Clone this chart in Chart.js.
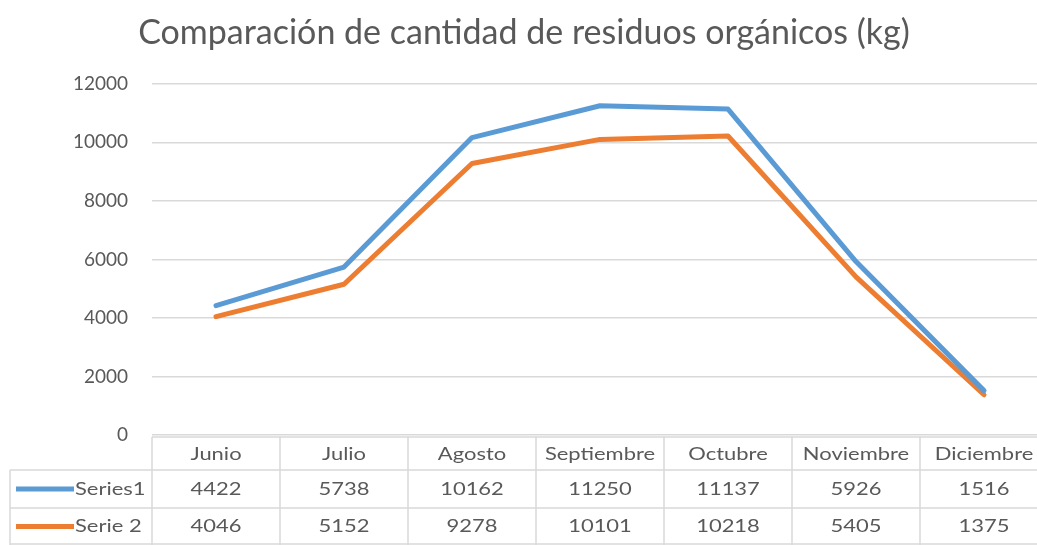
<!DOCTYPE html>
<html>
<head>
<meta charset="utf-8">
<script src="https://cdn.jsdelivr.net/npm/chart.js@4"></script>
<style>
  html, body { margin: 0; padding: 0; background: #fff; overflow: hidden; }
  #wrap { width: 1050px; height: 545px; }
</style>
</head>
<body>
<div id="wrap"><canvas id="chart" width="1050" height="545"></canvas></div>
<script>
// Chart data
const months = ['Junio', 'Julio', 'Agosto', 'Septiembre', 'Octubre', 'Noviembre', 'Diciembre'];
const series1 = [4422, 5738, 10162, 11250, 11137, 5926, 1516];
const series2 = [4046, 5152, 9278, 10101, 10218, 5405, 1375];
const seriesNames = ['Series1', 'Serie 2'];
const yTicks = [0, 2000, 4000, 6000, 8000, 10000, 12000];

const textColor = '#595959';
const gridColor = '#d9d9d9';
const colors = ['#5b9bd5', '#ed7d31'];
const fontFamily = 'Lato, "Open Sans", sans-serif';

// Data table drawn under the plot area (Excel style)
const dataTable = {
    id: 'dataTable',
    afterDraw(chart) {
        const ctx = chart.ctx;
        const ca = chart.chartArea;
        const x = chart.scales.x;
        const catW = (ca.right - ca.left) / months.length;
        const top = ca.bottom + 2;
        const row1 = top + 33;
        const row2 = row1 + 38;
        const bottom = chart.height;
        const legendLeft = 10;
        const stretch = 1.22;

        ctx.save();
        ctx.strokeStyle = gridColor;
        ctx.lineWidth = 1.5;

        // horizontal lines
        ctx.beginPath();
        ctx.moveTo(ca.left, top); ctx.lineTo(chart.width, top);
        ctx.moveTo(legendLeft, row1); ctx.lineTo(chart.width, row1);
        ctx.moveTo(legendLeft, row2); ctx.lineTo(chart.width, row2);
        ctx.moveTo(legendLeft, bottom - 1); ctx.lineTo(chart.width, bottom - 1);
        // vertical lines
        for (let i = 0; i <= months.length; i++) {
            const xx = ca.left + i * catW;
            ctx.moveTo(xx, top); ctx.lineTo(xx, bottom);
        }
        ctx.moveTo(legendLeft, row1); ctx.lineTo(legendLeft, bottom);
        ctx.stroke();

        // text is a bit wide in the original, stretch it horizontally
        const label = (txt, cx, cy, align) => {
            ctx.save();
            ctx.translate(cx, cy);
            ctx.scale(stretch, 1);
            ctx.textAlign = align;
            ctx.fillText(txt, 0, 0);
            ctx.restore();
        };

        ctx.fillStyle = textColor;
        ctx.font = '18px ' + fontFamily;
        ctx.textBaseline = 'middle';
        months.forEach((m, i) => {
            const cx = x.getPixelForValue(i);
            label(m, cx, (top + row1) / 2 + 1, 'center');
            label(String(series1[i]), cx, (row1 + row2) / 2, 'center');
            label(String(series2[i]), cx, (row2 + bottom) / 2, 'center');
        });

        // legend keys
        const rows = [(row1 + row2) / 2, (row2 + bottom) / 2];
        rows.forEach((ry, k) => {
            ctx.strokeStyle = colors[k];
            ctx.lineWidth = 5;
            ctx.beginPath();
            ctx.moveTo(16, ry); ctx.lineTo(74, ry);
            ctx.stroke();
            label(seriesNames[k], 75, ry, 'left');
        });
        ctx.restore();
    }
};

new Chart(document.getElementById('chart').getContext('2d'), {
    type: 'line',
    data: {
        labels: months,
        datasets: [
            { label: seriesNames[0], data: series1, borderColor: colors[0], backgroundColor: colors[0] },
            { label: seriesNames[1], data: series2, borderColor: colors[1], backgroundColor: colors[1] }
        ]
    },
    options: {
        responsive: false,
        animation: false,
        layout: { padding: { top: 0, left: 0, right: 2, bottom: 102 } },
        elements: {
            line: { borderWidth: 5, tension: 0, borderCapStyle: 'round', borderJoinStyle: 'round' },
            point: { radius: 0 }
        },
        plugins: {
            legend: { display: false },
            tooltip: { enabled: false },
            title: {
                display: true,
                text: 'Comparación de cantidad de residuos orgánicos (kg)',
                color: textColor,
                font: { family: fontFamily, size: 34, weight: 'normal' },
                padding: { top: 13, bottom: 30 }
            }
        },
        scales: {
            x: {
                offset: true,
                ticks: { display: false },
                grid: { display: false },
                border: { display: false }
            },
            y: {
                min: 0,
                max: 12000,
                afterBuildTicks: (scale) => { scale.ticks = yTicks.map(v => ({ value: v })); },
                afterFit: (scale) => { scale.width = 152; },
                ticks: {
                    color: textColor,
                    padding: 24,
                    font: { family: fontFamily, size: 19 },
                    callback: (v) => String(v)
                },
                grid: { color: gridColor, lineWidth: 1.5, drawTicks: false },
                border: { display: false }
            }
        }
    },
    plugins: [dataTable]
});
</script>
</body>
</html>
